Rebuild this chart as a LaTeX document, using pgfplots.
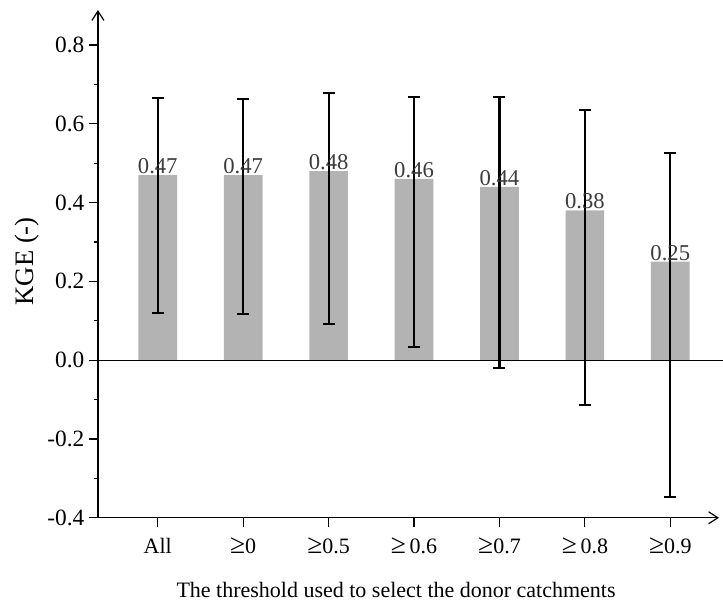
\documentclass[border=0pt]{standalone}
\usepackage{fontspec}
\setmainfont{Liberation Serif}
\usepackage{pgfplots}
\pgfplotsset{compat=1.18}
\usetikzlibrary{arrows.meta}
\definecolor{bargray}{RGB}{179,179,179}
\definecolor{labgray}{RGB}{60,60,60}
\newcommand{\GEsym}{\scalebox{1.25}{≥}}
\begin{document}
\begin{tikzpicture}
\useasboundingbox (-73.5pt,-66pt) rectangle (469pt,388.5pt);
\begin{axis}[
  scale only axis,
  width=466pt, height=381pt,
  axis lines=left,
  axis line style={line width=0.9pt, -{Straight Barb[length=7pt,width=9pt,line width=0.9pt]}},
  xmin=-0.7, xmax=6.57,
  ymin=-0.4, ymax=0.889,
  xtick={0,1,2,3,4,5,6},
  xticklabels={All,\GEsym0,\GEsym0.5,\GEsym\,0.6,\GEsym0.7,\GEsym\,0.8,\GEsym0.9},
  ytick={-0.4,-0.2,0,0.2,0.4,0.6,0.8},
  minor ytick={-0.3,-0.1,0.1,0.3,0.5,0.7},
  tick align=outside,
  major tick length=6.75pt,
  minor tick length=3pt,
  tick style={line width=0.9pt, black},
  minor tick style={line width=0.9pt, black},
  /pgf/number format/assume math mode=true,
  yticklabel style={/pgf/number format/fixed,/pgf/number format/precision=1,/pgf/number format/fixed zerofill, font=\fontsize{17.5}{20}\selectfont},
  xticklabel style={font=\fontsize{16.5}{20}\selectfont, yshift=-5pt},
  ylabel={KGE (-)},
  ylabel style={at={(axis description cs:-0.114,0.505)}, anchor=center, font=\fontsize{20}{24}\selectfont},
  xlabel={The threshold used to select the donor catchments},
  xlabel style={at={(axis description cs:0.48,0)}, yshift=-54pt, anchor=center, font=\fontsize{16.5}{20}\selectfont},
  clip=false,
]
\addplot[ybar, bar width=29pt, fill=bargray, draw=none,
  nodes near coords,
  nodes near coords style={font=\fontsize{17}{20}\selectfont, text=labgray, /pgf/number format/fixed, /pgf/number format/precision=2, /pgf/number format/fixed zerofill, inner sep=0.8pt},
  error bars/.cd, y dir=both, y explicit,
  error bar style={line width=1.6pt, black},
  error mark options={rotate=90, mark size=4.5pt, line width=1.6pt, black}]
table[x=x, y=y, y error plus=ep, y error minus=em] {
x y ep em
0 0.47 0.195 0.351
1 0.47 0.193 0.353
2 0.48 0.198 0.389
3 0.46 0.208 0.427
4 0.44 0.228 0.460
5 0.38 0.255 0.494
6 0.25 0.276 0.598
};
\addplot[black, line width=0.9pt, no marks] coordinates {(-0.7,0) (6.62,0)};
\end{axis}
\end{tikzpicture}
\end{document}
